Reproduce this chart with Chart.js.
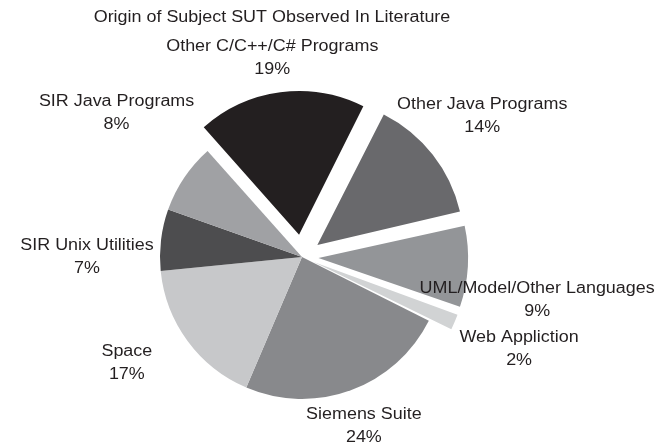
<!DOCTYPE html>
<html>
<head>
<meta charset="utf-8">
<script src="https://cdn.jsdelivr.net/npm/chart.js@4"></script>
<style>
  html, body { margin: 0; padding: 0; background: #fff; }
</style>
</head>
<body>
<canvas id="sutChart" width="655" height="448"></canvas>
<script>
const chartTitle = 'Origin of Subject SUT Observed In Literature';
const categories = ['Other C/C++/C# Programs', 'Other Java Programs', 'UML/Model/Other Languages', 'Web Appliction',
  'Siemens Suite', 'Space', 'SIR Unix Utilities', 'SIR Java Programs'];
const shares = [19, 14, 9, 2, 24, 17, 7, 8];
const sliceColors = ['#231f20', '#69696c', '#939598', '#d1d3d4', '#88898c', '#c7c8ca', '#4d4d4f', '#a0a1a4'];
// Chart.js moves a slice by roughly offset/4..offset/2, so these give ~24px pull-out
const sliceOffsets = [90, 78, 66, 51, 0, 0, 0, 0];

// label placement: angle shift from the slice middle (deg) and distance from pie centre (px)
const labelShift = [-1, 0, 7, 0, 0, 5, -7, 4];
const labelDist = [201, 229, 239, 236, 180, 205, 215, 235];

const textStretch = 1.12;

function drawText(ctx, text, x, y) {
  ctx.save();
  ctx.translate(x, y);
  ctx.scale(textStretch, 1);
  ctx.fillText(text, 0, 0);
  ctx.restore();
}

const sliceLabels = {
  id: 'sliceLabels',
  afterDraw(chart) {
    const ctx = chart.ctx;
    const arcs = chart.getDatasetMeta(0).data;
    ctx.save();
    ctx.fillStyle = '#231f20';
    ctx.font = '16px "Liberation Sans", Arial, sans-serif';
    ctx.textAlign = 'center';
    ctx.textBaseline = 'middle';
    drawText(ctx, chartTitle, 272, 18);
    arcs.forEach((arc, i) => {
      const a = (arc.startAngle + arc.endAngle) / 2 + labelShift[i] * Math.PI / 180;
      const x = arc.x + Math.cos(a) * labelDist[i];
      const y = arc.y + Math.sin(a) * labelDist[i];
      drawText(ctx, categories[i], x, y - 11.5);
      drawText(ctx, shares[i] + '%', x, y + 11.5);
    });
    ctx.restore();
  }
};

new Chart(document.getElementById('sutChart'), {
  type: 'pie',
  data: {
    labels: categories,
    datasets: [{
      data: shares,
      backgroundColor: sliceColors,
      offset: sliceOffsets,
      borderWidth: 0
    }]
  },
  options: {
    responsive: false,
    animation: false,
    events: [],
    rotation: -41.7,
    layout: {
      // pie radius = (area height - largest offset) / 2
      padding: { top: 70, bottom: 4, left: 0, right: 51 }
    },
    plugins: {
      legend: { display: false },
      tooltip: { enabled: false }
    }
  },
  plugins: [sliceLabels]
});
</script>
</body>
</html>
